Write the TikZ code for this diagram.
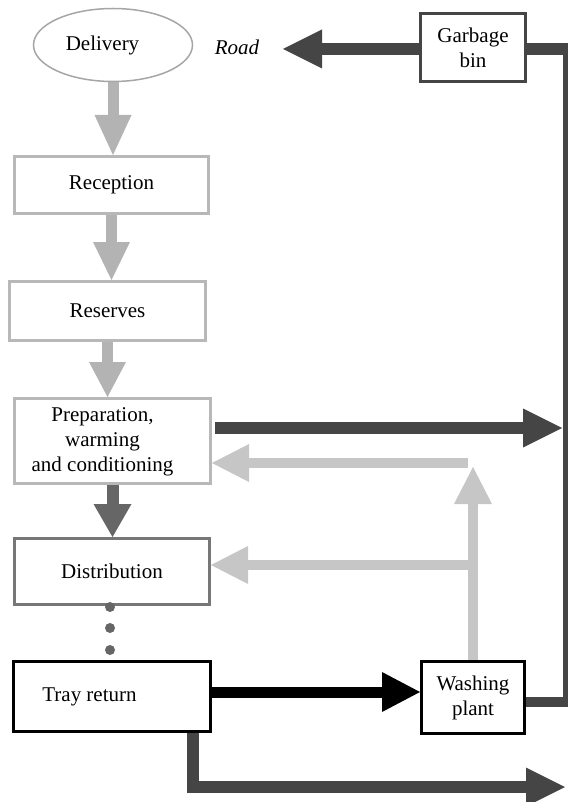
\documentclass[tikz,border=0pt]{standalone}
\usepackage{fontspec}
\setmainfont{Liberation Serif}
\usetikzlibrary{arrows.meta,shapes.geometric}

\definecolor{paleg}{HTML}{B3B3B3}
\definecolor{boxg}{HTML}{B8B8B8}
\definecolor{backg}{HTML}{C6C6C6}
\definecolor{midg}{HTML}{666666}
\definecolor{distg}{HTML}{777777}
\definecolor{darkg}{HTML}{454545}
\definecolor{ellg}{HTML}{A6A6A6}

\begin{document}
\begin{tikzpicture}[x=1pt,y=-1pt,
  every node/.style={font=\fontsize{21}{25}\selectfont, align=center, inner sep=0pt},
  stepbox/.style={draw, line width=3pt, fill=white},
  palearrow/.style={draw=paleg, line width=11pt, -{Triangle[length=#1,width=37pt,line width=0pt]}},
  backarrow/.style={draw=backg, line width=10pt, -{Triangle[length=37pt,width=38pt,line width=0pt]}},
  darkarrow/.style={draw=darkg, line width=12pt, -{Triangle[length=39pt,width=39pt,line width=0pt]}},
  blackarrow/.style={draw=black, line width=11pt, -{Triangle[length=38pt,width=40pt,line width=0pt]}},
  midarrow/.style={draw=midg, line width=12pt, -{Triangle[length=33pt,width=38pt,line width=0pt]}},
  busline/.style={draw=darkg},
  dot/.style={circle, fill=midg, minimum size=10pt}]

\useasboundingbox (0,0) rectangle (568,802);

% main chain
\node[ellipse, draw=ellg, line width=1.5pt, minimum width=159pt, minimum height=73pt]
  (del) at (113,45) {Delivery\hspace*{21pt}};
\node[stepbox, draw=boxg, minimum width=194pt, minimum height=57pt] (rec) at (111.5,185) {Reception};
\node[stepbox, draw=boxg, minimum width=196pt, minimum height=59pt] (res) at (107.5,311) {Reserves};
\node[stepbox, draw=boxg, minimum width=196pt, minimum height=85pt] (prep) at (112.5,441)
  {\begin{tabular}{@{}c@{}}Preparation,\\warming\\and conditioning\end{tabular}\hspace*{20pt}};
\node[stepbox, draw=distg, minimum width=195pt, minimum height=66pt] (dist) at (112,571.5) {Distribution};
\node[stepbox, draw=black, minimum width=197pt, minimum height=70pt] (tray) at (112,696.5) {Tray return\hspace*{45pt}};
\node[stepbox, draw=black, minimum width=103pt, minimum height=72pt] (wash) at (473,697.5) {Washing\\plant};
\node[stepbox, draw=darkg, minimum width=105pt, minimum height=68pt] (bin) at (473,47.5) {Garbage\\bin};
\node (road) at (237,47) {\textit{Road}};

% free ends of the connectors
\coordinate (roadEnd) at (283,49);
\coordinate (busNE) at (568,49);
\coordinate (busTop) at (565.5,43);
\coordinate (busBot) at (565.5,707);
\coordinate (busW) at (568,702);
\coordinate (prepOut) at (562,428);
\coordinate (bottomOut) at (565,787);
\coordinate (fbTop) at (473,467);
\coordinate (fbPrep) at (468,463);
\coordinate (fbDist) at (473,565);

% food flow
\draw[palearrow=40pt] (del.south) -- (del.south |- rec.north);
\draw[palearrow=38pt] (rec.south) -- (rec.south |- res.north);
\draw[palearrow=35pt] (res.south) -- (res.south |- prep.north);
\draw[midarrow] (prep.south) -- (prep.south |- dist.north);

% dotted link distribution -> tray return
\node[dot] (d1) at (110,607) {};
\node[dot] (d2) at (110,628) {};
\node[dot] (d3) at (110,650) {};

% returns
\draw[blackarrow] ([yshift=4.5pt]tray.east) -- ([yshift=5.5pt]wash.west);
\draw[backarrow] (wash.north) -- (fbTop);
\draw[backarrow] (fbPrep) -- ([yshift=-22pt]prep.east);
\draw[backarrow] (fbDist) -- ([yshift=6.5pt]dist.east);

% waste
\draw[darkarrow] ([xshift=3pt,yshift=13pt]prep.east) -- (prepOut);
\draw[darkarrow, line join=miter] ([xshift=81pt]tray.south) |- (bottomOut);
\draw[busline, line width=5pt] (busTop) -- (busBot);
\draw[busline, line width=10pt] ([yshift=-4.5pt]wash.east) -- (busW);
\draw[busline, line width=12pt] ([yshift=-1.5pt]bin.east) -- (busNE);
\draw[darkarrow] ([yshift=-1.5pt]bin.west) -- (roadEnd);

\end{tikzpicture}
\end{document}
